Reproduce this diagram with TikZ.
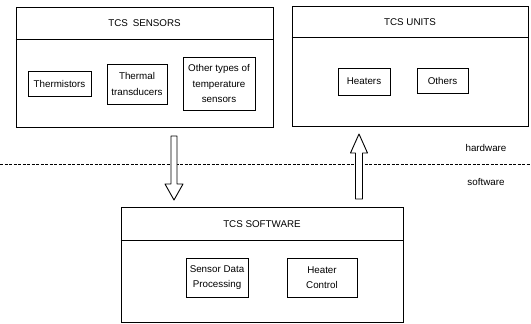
\documentclass[tikz,border=0pt]{standalone}
\usepackage{fontspec}
\setmainfont{Liberation Sans}
\usetikzlibrary{calc}
\begin{document}
\begin{tikzpicture}[x=1pt,y=-1pt,
  every node/.style={font=\fontsize{9.8}{15.5}\selectfont, inner sep=0pt},
  group/.style={draw, line width=0.9pt, rectangle},
  item/.style={draw, line width=0.9pt, rectangle, align=center},
  title/.style={},
  blockarrow/.style={draw, line width=0.9pt, fill=white, line join=round},
  sep/.style={dashed, dash pattern=on 3pt off 1.5pt, line width=0.7pt}]
\useasboundingbox (0,0) rectangle (531,324);

% group frames
\node[group, minimum width=257pt, minimum height=120pt] (sens) at (144.5,67) {};
\node[group, minimum width=236pt, minimum height=120pt] (units) at (410,66) {};
\node[group, minimum width=282pt, minimum height=115pt] (soft) at (262,264.5) {};

% title bars
\draw[line width=0.9pt] (sens.west |- 0,39) -- (sens.east |- 0,39);
\draw[line width=0.9pt] (units.west |- 0,37) -- (units.east |- 0,37);
\draw[line width=0.9pt] (soft.west |- 0,240) -- (soft.east |- 0,240);
\node[title] (sensT) at (144.5,23) {TCS\enspace SENSORS};
\node[title] (unitsT) at (410,22) {TCS UNITS};
\node[title] (softT) at (262,224) {TCS SOFTWARE};

% sensor items
\node[item, minimum width=63pt, minimum height=25pt] (therm) at (59.5,83.5) {Thermistors};
\node[item, minimum width=60pt, minimum height=40pt] (trans) at (137,84) {Thermal\\transducers};
\node[item, minimum width=72pt, minimum height=53pt] (other) at (219,83.5) {Other types of\\temperature\\sensors};

% unit items
\node[item, minimum width=52pt, minimum height=27pt] (heat) at (364,81.5) {Heaters};
\node[item, minimum width=51pt, minimum height=25pt] (oth) at (442.5,80.5) {Others};

% software items
\node[item, minimum width=62pt, minimum height=39pt] (sdp) at (217,277.5) {Sensor Data\\Processing};
\node[item, minimum width=70pt, minimum height=39pt] (hc) at (322,277.5) {Heater\\Control};

% hardware / software boundary
\coordinate (sepL) at (0,164);
\coordinate (sepR) at (531,164);
\draw[sep] (sepL) -- (sepR);
\node (hw) at (486,148) {hardware};
\node (sw) at (486,182) {software};

% block arrow: sensors -> software
\coordinate (dnTop) at (174,136);
\coordinate (dnTip) at (174,200);
\draw[blockarrow] ($(dnTop)+(-3,0)$) -- ($(dnTop)+(3,0)$) -- ($(dnTip)+(3,-16)$) -- ($(dnTip)+(9,-16)$)
  -- (dnTip) -- ($(dnTip)+(-9,-16)$) -- ($(dnTip)+(-3,-16)$) -- cycle;

% block arrow: software -> units
\coordinate (upBot) at (359,199);
\coordinate (upTip) at (359,134);
\draw[blockarrow] ($(upBot)+(-3.5,0)$) -- ($(upBot)+(3.5,0)$) -- ($(upTip)+(3.5,19)$) -- ($(upTip)+(8.5,19)$)
  -- (upTip) -- ($(upTip)+(-8.5,19)$) -- ($(upTip)+(-3.5,19)$) -- cycle;
\end{tikzpicture}
\end{document}
